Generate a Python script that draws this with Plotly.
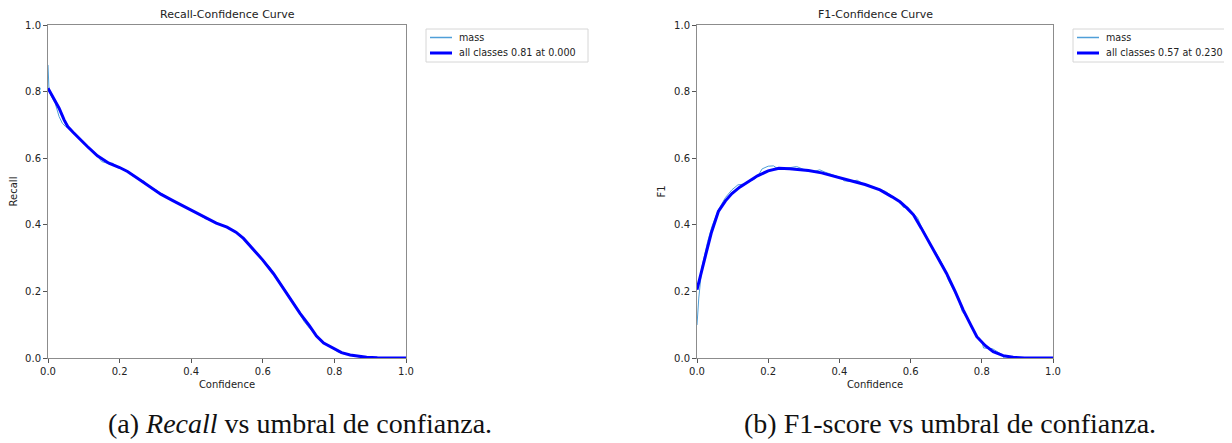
import plotly.graph_objects as go

# ---------------- data ----------------
rec_all_x = [0.000, 0.015, 0.031, 0.045, 0.055, 0.07, 0.09, 0.11, 0.138, 0.17, 0.20, 0.222, 0.25, 0.28,
             0.315, 0.35, 0.38, 0.408, 0.44, 0.47, 0.50, 0.525, 0.546, 0.57, 0.60, 0.63, 0.657, 0.68,
             0.704, 0.73, 0.75, 0.77, 0.797, 0.82, 0.844, 0.87, 0.89, 0.92, 1.0]
rec_all_y = [0.810, 0.780, 0.750, 0.715, 0.695, 0.678, 0.655, 0.635, 0.607, 0.585, 0.572, 0.560, 0.540, 0.518,
             0.492, 0.472, 0.455, 0.440, 0.422, 0.405, 0.393, 0.378, 0.359, 0.330, 0.294, 0.253, 0.209, 0.172,
             0.134, 0.097, 0.066, 0.045, 0.029, 0.016, 0.009, 0.004, 0.002, 0.0005, 0.0]

rec_mass_x = [0.000, 0.003, 0.01, 0.02, 0.031, 0.04, 0.049, 0.06, 0.075, 0.09, 0.11, 0.13, 0.138, 0.15, 0.165,
              0.18, 0.20, 0.222, 0.235, 0.25, 0.27, 0.285, 0.30, 0.315, 0.33, 0.35, 0.38, 0.408, 0.44, 0.47,
              0.50, 0.52, 0.535, 0.546, 0.57, 0.60, 0.62, 0.64, 0.657, 0.68, 0.69, 0.704, 0.715, 0.73, 0.745,
              0.76, 0.78, 0.797, 0.81, 0.82, 0.844, 0.87, 0.89, 0.92, 1.0]
rec_mass_y = [0.880, 0.800, 0.785, 0.765, 0.725, 0.705, 0.695, 0.690, 0.675, 0.658, 0.634, 0.618, 0.607, 0.590, 0.585,
              0.585, 0.570, 0.562, 0.548, 0.540, 0.530, 0.512, 0.506, 0.495, 0.484, 0.472, 0.455, 0.441, 0.418, 0.407,
              0.392, 0.383, 0.370, 0.360, 0.328, 0.296, 0.272, 0.240, 0.212, 0.176, 0.160, 0.131, 0.110, 0.090, 0.076,
              0.055, 0.040, 0.027, 0.018, 0.014, 0.008, 0.003, 0.001, 0.0, 0.0]

f1_all_x = [0.000, 0.01, 0.023, 0.04, 0.06, 0.08, 0.098, 0.12, 0.145, 0.17, 0.20, 0.23, 0.26, 0.29, 0.313,
            0.35, 0.38, 0.407, 0.44, 0.472, 0.50, 0.514, 0.548, 0.57, 0.59, 0.608, 0.63, 0.654, 0.68, 0.701,
            0.725, 0.748, 0.77, 0.786, 0.81, 0.832, 0.86, 0.888, 0.92, 1.0]
f1_all_y = [0.205, 0.250, 0.304, 0.375, 0.440, 0.472, 0.494, 0.513, 0.530, 0.547, 0.562, 0.570, 0.568, 0.565, 0.563,
            0.556, 0.548, 0.540, 0.530, 0.521, 0.510, 0.505, 0.484, 0.469, 0.450, 0.430, 0.390, 0.344, 0.295, 0.254,
            0.200, 0.144, 0.097, 0.064, 0.037, 0.019, 0.007, 0.002, 0.0, 0.0]

f1_mass_x = [0.000, 0.005, 0.014, 0.03, 0.042, 0.06, 0.08, 0.098, 0.115, 0.13, 0.145, 0.16, 0.17, 0.183, 0.20,
             0.215, 0.23, 0.25, 0.28, 0.30, 0.31, 0.33, 0.345, 0.36, 0.38, 0.40, 0.414, 0.43, 0.45, 0.47, 0.50,
             0.52, 0.53, 0.548, 0.57, 0.58, 0.59, 0.605, 0.62, 0.63, 0.645, 0.654, 0.67, 0.68, 0.695, 0.705,
             0.72, 0.735, 0.745, 0.76, 0.77, 0.785, 0.80, 0.805, 0.83, 0.86, 0.862, 0.90, 1.0]
f1_mass_y = [0.099, 0.180, 0.274, 0.350, 0.395, 0.445, 0.482, 0.505, 0.520, 0.522, 0.530, 0.536, 0.545, 0.568, 0.576,
             0.577, 0.566, 0.570, 0.575, 0.566, 0.561, 0.561, 0.565, 0.558, 0.550, 0.543, 0.532, 0.530, 0.534, 0.521, 0.512,
             0.504, 0.500, 0.486, 0.468, 0.452, 0.455, 0.438, 0.420, 0.395, 0.365, 0.340, 0.318, 0.300, 0.270, 0.236,
             0.205, 0.175, 0.140, 0.118, 0.095, 0.068, 0.050, 0.030, 0.028, 0.008, 0.0, 0.0, 0.0]

ticks = [0.0, 0.2, 0.4, 0.6, 0.8, 1.0]
tick_text = ["0.0", "0.2", "0.4", "0.6", "0.8", "1.0"]

legend_left = ["mass", "all classes 0.81 at 0.000"]
legend_right = ["mass", "all classes 0.57 at 0.230"]

MASS_COLOR = "#4f9fd8"
ALL_COLOR = "#0000ff"

# page has an 8px body margin; lay out in page pixels and convert
OFF = 8
W, H = 1224, 435


def px(xp):
    return (xp - OFF) / W


def py(yp):
    return 1 - (yp - OFF) / H


fig = go.Figure()
fig.add_trace(go.Scatter(x=rec_mass_x, y=rec_mass_y, mode="lines", name=legend_left[0],
                         line=dict(color=MASS_COLOR, width=1), xaxis="x", yaxis="y"))
fig.add_trace(go.Scatter(x=rec_all_x, y=rec_all_y, mode="lines", name=legend_left[1],
                         line=dict(color=ALL_COLOR, width=3), xaxis="x", yaxis="y"))
fig.add_trace(go.Scatter(x=f1_mass_x, y=f1_mass_y, mode="lines", name=legend_right[0],
                         line=dict(color=MASS_COLOR, width=1), xaxis="x2", yaxis="y2"))
fig.add_trace(go.Scatter(x=f1_all_x, y=f1_all_y, mode="lines", name=legend_right[1],
                         line=dict(color=ALL_COLOR, width=3), xaxis="x2", yaxis="y2"))

ydom = [py(358), py(25)]
axis_common = dict(range=[0, 1], tickvals=ticks, ticktext=tick_text, showgrid=False, zeroline=False,
                   showline=True, mirror=True, linecolor="#8c8c8c", linewidth=1, automargin=False,
                   ticks="outside", ticklen=4, tickcolor="#555555", tickwidth=1,
                   tickfont=dict(family="DejaVu Sans", size=10, color="#222222"))
title_font = dict(family="DejaVu Sans", size=10, color="#222")

fig.update_layout(
    width=W, height=H, margin=dict(l=0, r=0, t=0, b=0, autoexpand=False),
    paper_bgcolor="white", plot_bgcolor="white", showlegend=False,
    xaxis=dict(domain=[px(48), px(406)], anchor="y",
               title=dict(text="Confidence", font=title_font, standoff=4), **axis_common),
    yaxis=dict(domain=ydom, anchor="x",
               title=dict(text="Recall", font=title_font, standoff=6), **axis_common),
    xaxis2=dict(domain=[px(697), px(1053)], anchor="y2",
                title=dict(text="Confidence", font=title_font, standoff=4), **axis_common),
    yaxis2=dict(domain=ydom, anchor="x2",
                title=dict(text="F1", font=title_font, standoff=6), **axis_common),
)

# manual legends (matplotlib style)
for box_x0, box_x1, labels in [(426, 588, legend_left), (1073, 1240, legend_right)]:
    fig.add_shape(type="rect", xref="paper", yref="paper",
                  x0=px(box_x0), x1=px(box_x1), y0=py(62), y1=py(29),
                  line=dict(color="#d6d6d6", width=1), fillcolor="rgba(255,255,255,0.85)")
    for row_y, lab, col, lw in [(37.5, labels[0], MASS_COLOR, 1.5), (53, labels[1], ALL_COLOR, 3)]:
        fig.add_shape(type="line", xref="paper", yref="paper",
                      x0=px(box_x0 + 4), x1=px(box_x0 + 26), y0=py(row_y), y1=py(row_y),
                      line=dict(color=col, width=lw))
        fig.add_annotation(text=lab, x=px(box_x0 + 31), y=py(row_y), xref="paper", yref="paper",
                           xanchor="left", yanchor="middle", showarrow=False,
                           font=dict(family="DejaVu Sans", size=9.6, color="#222"))

annots = [
    dict(text="Recall-Confidence Curve", x=px((48 + 406) / 2), y=py(15), size=11,
         family="DejaVu Sans", color="#222"),
    dict(text="F1-Confidence Curve", x=px((697 + 1053) / 2), y=py(15), size=11,
         family="DejaVu Sans", color="#222"),
    dict(text="(a) <i>Recall</i> vs umbral de confianza.", x=px(300), y=py(423), size=28,
         family="Liberation Serif", color="#111"),
    dict(text="(b) F1-score vs umbral de confianza.", x=px(950), y=py(423), size=28,
         family="Liberation Serif", color="#111"),
]
for a in annots:
    fig.add_annotation(text=a["text"], x=a["x"], y=a["y"], xref="paper", yref="paper",
                       xanchor="center", yanchor="middle", showarrow=False,
                       font=dict(family=a["family"], size=a["size"], color=a["color"]))

fig.write_html("out.html")
